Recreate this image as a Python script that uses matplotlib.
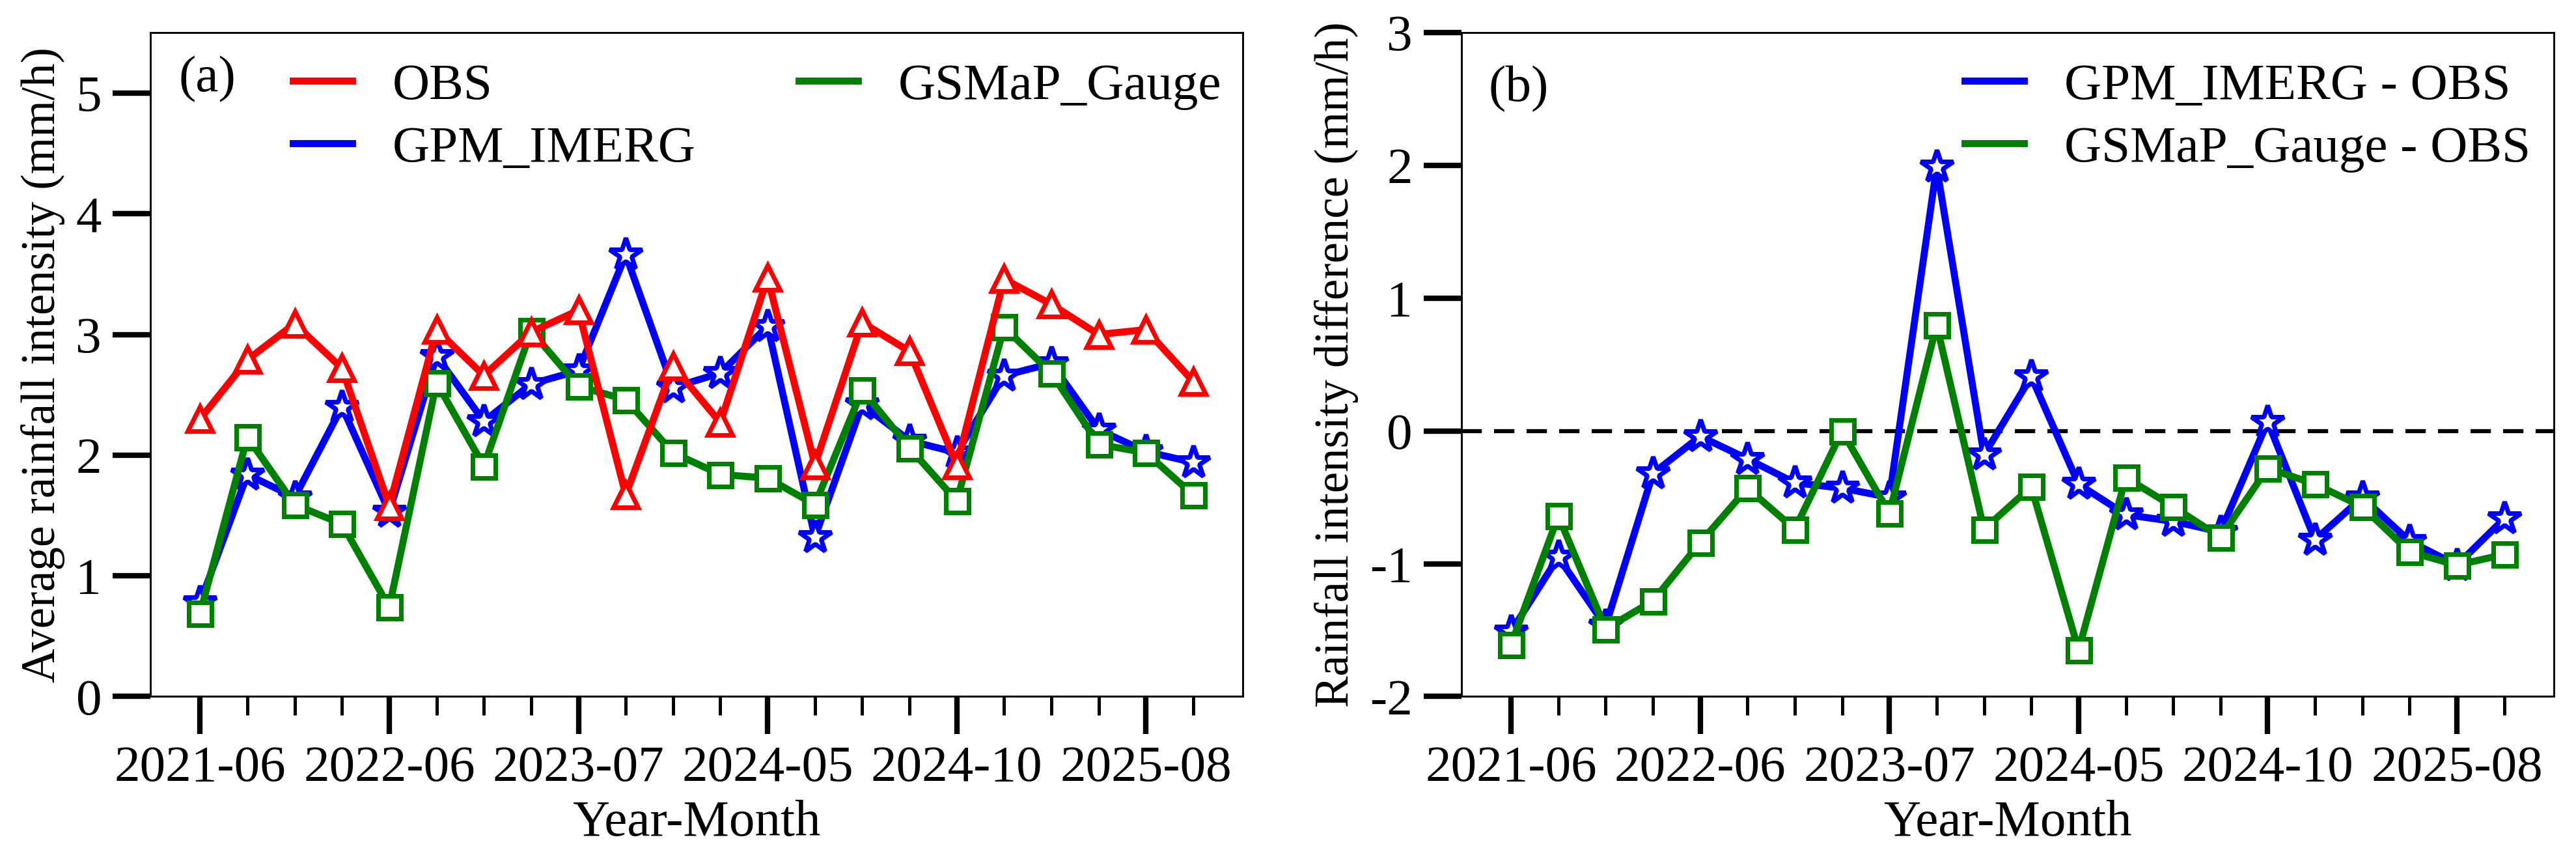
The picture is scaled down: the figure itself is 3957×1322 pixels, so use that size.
import numpy as np
import matplotlib
matplotlib.use('Agg')
import matplotlib.pyplot as plt
from matplotlib.ticker import FixedLocator
from matplotlib.lines import Line2D

# ---------------- data ----------------
tick_labels = ['2021-06', '2022-06', '2023-07', '2024-05', '2024-10', '2025-08']

obs = [2.30, 2.79, 3.09, 2.72, 1.58, 3.04, 2.66, 3.02, 3.20, 1.67, 2.74,
       2.27, 3.47, 1.92, 3.10, 2.86, 1.92, 3.46, 3.25, 3.00, 3.04, 2.61]
gpm = [0.78, 1.84, 1.65, 2.40, 1.53, 2.82, 2.28, 2.59, 2.70, 3.66, 2.56,
       2.68, 3.07, 1.32, 2.42, 2.12, 2.02, 2.66, 2.76, 2.21, 2.03, 1.94]
gsmap = [0.69, 2.15, 1.59, 1.43, 0.74, 2.60, 1.91, 3.03, 2.57, 2.46, 2.02,
         1.84, 1.81, 1.59, 2.54, 2.06, 1.62, 3.06, 2.68, 2.09, 2.02, 1.67]

diff_gpm = [-1.51, -0.95, -1.47, -0.32, -0.04, -0.21, -0.39, -0.43, -0.50, 1.99, -0.18,
            0.41, -0.40, -0.63, -0.68, -0.76, 0.07, -0.82, -0.50, -0.83, -1.01, -0.66]
diff_gsmap = [-1.61, -0.64, -1.49, -1.28, -0.84, -0.43, -0.74, 0.00, -0.62, 0.80, -0.74,
              -0.42, -1.65, -0.35, -0.57, -0.80, -0.28, -0.40, -0.57, -0.91, -1.01, -0.93]

# ---------------- style ----------------
plt.rcParams['font.family'] = ['Liberation Serif', 'DejaVu Serif']
plt.rcParams['axes.unicode_minus'] = False
FS = 19
FS_YL = 17.5
LW = 2.6
MEW = 1.7
RED, BLUE, GREEN = '#FF0000', '#0000FF', '#008000'
STAR = dict(marker='*', ms=12.5, mfc='white', mew=MEW)
SQ = dict(marker='s', ms=8.4, mfc='white', mew=MEW)
TRI = dict(marker='^', ms=9.2, mfc='white', mew=MEW)

x = np.arange(len(obs))
tick_pos = x[::4]

fig = plt.figure(figsize=(3957 / 300, 1322 / 300), dpi=300)
axa = fig.add_axes([0.0584, 0.191, 0.4241, 0.771])
axb = fig.add_axes([0.5673, 0.191, 0.4241, 0.771])


def style(ax):
    ax.set_xlim(-1.05, 22.05)
    ax.xaxis.set_major_locator(FixedLocator(tick_pos))
    ax.set_xticklabels(tick_labels)
    ax.xaxis.set_minor_locator(FixedLocator(x))
    ax.tick_params(which='major', direction='out', length=14, width=2.0,
                   labelsize=FS, pad=4, top=False, right=False)
    ax.tick_params(axis='x', which='minor', direction='out', length=7, width=1.2,
                   top=False)
    ax.tick_params(axis='y', which='minor', left=False, right=False)
    for s in ax.spines.values():
        s.set_linewidth(0.7)
    ax.set_xlabel('Year-Month', fontsize=FS, labelpad=3)


# ---------------- panel (a) ----------------
axa.plot(x, gpm, color=BLUE, lw=LW, mec=BLUE, zorder=2, **STAR)
axa.plot(x, gsmap, color=GREEN, lw=LW, mec=GREEN, zorder=3, **SQ)
axa.plot(x, obs, color=RED, lw=LW, mec=RED, zorder=4, **TRI)
style(axa)
axa.set_ylim(0, 5.5)
axa.yaxis.set_major_locator(FixedLocator([0, 1, 2, 3, 4, 5]))
axa.set_ylabel('Average rainfall intensity (mm/h)', fontsize=FS_YL, labelpad=4)
axa.text(0.026, 0.965, '(a)', transform=axa.transAxes, fontsize=FS, va='top', ha='left')
ha = [Line2D([], [], color=RED, lw=LW), Line2D([], [], color=BLUE, lw=LW),
      Line2D([], [], color=GREEN, lw=LW)]
axa.legend(ha, ['OBS', 'GPM_IMERG', 'GSMaP_Gauge'], ncol=2, frameon=False,
           fontsize=FS, handlelength=1.15, handletextpad=0.78, columnspacing=2.0,
           labelspacing=0.3, loc='upper left', bbox_to_anchor=(0.1305, 0.955),
           borderpad=0, borderaxespad=0)

# ---------------- panel (b) ----------------
axb.axhline(0, color='black', lw=1.5, ls=(0, (5, 3)), zorder=1)
axb.plot(x, diff_gpm, color=BLUE, lw=LW, mec=BLUE, zorder=2, **STAR)
axb.plot(x, diff_gsmap, color=GREEN, lw=LW, mec=GREEN, zorder=3, **SQ)
style(axb)
axb.set_ylim(-2, 3)
axb.yaxis.set_major_locator(FixedLocator([-2, -1, 0, 1, 2, 3]))
axb.set_ylabel('Rainfall intensity difference (mm/h)', fontsize=FS_YL, labelpad=4)
axb.text(0.025, 0.95, '(b)', transform=axb.transAxes, fontsize=FS, va='top', ha='left')
hb = [Line2D([], [], color=BLUE, lw=LW), Line2D([], [], color=GREEN, lw=LW)]
axb.legend(hb, ['GPM_IMERG - OBS', 'GSMaP_Gauge - OBS'], frameon=False,
           fontsize=FS, handlelength=1.15, handletextpad=0.78,
           labelspacing=0.3, loc='upper left', bbox_to_anchor=(0.461, 0.955),
           borderpad=0, borderaxespad=0)

fig.savefig('out.png', dpi=300)
